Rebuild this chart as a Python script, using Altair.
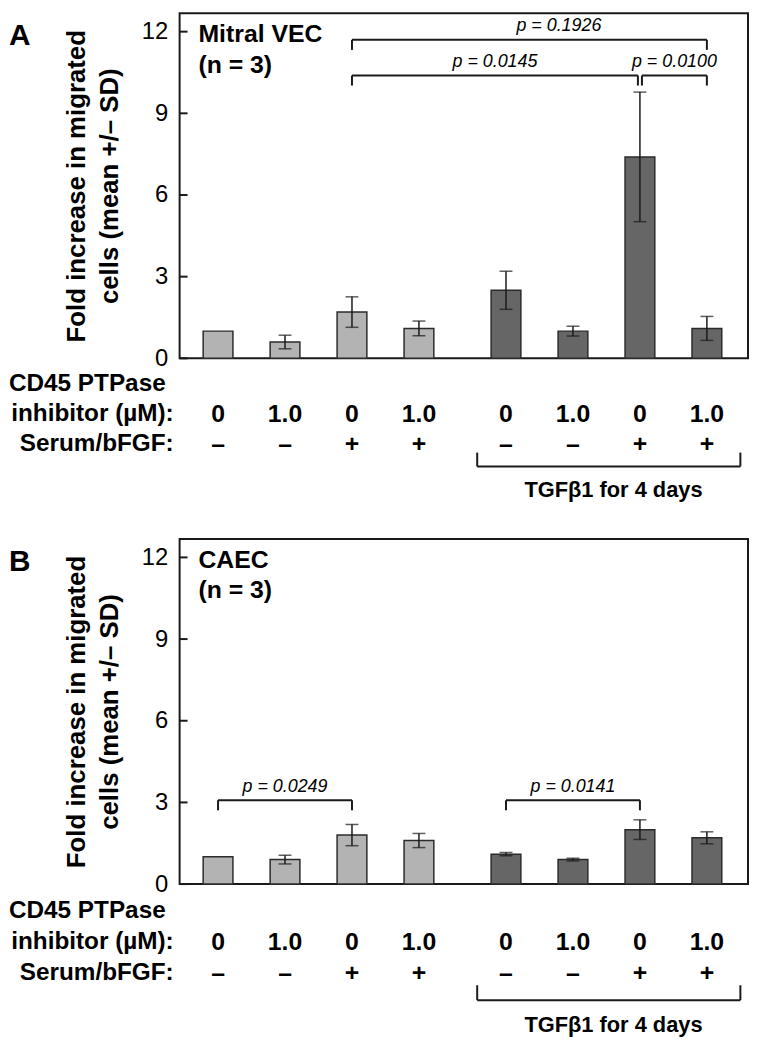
import altair as alt
import pandas as pd

# ---------------- data ----------------
inhibitor_labels = ["0", "1.0", "0", "1.0", "0", "1.0", "0", "1.0"]
serum_labels = ["–", "–", "+", "+", "–", "–", "+", "+"]
tgf_group = ["ctrl", "ctrl", "ctrl", "ctrl", "tgf", "tgf", "tgf", "tgf"]

mitral_mean = [1.0, 0.6, 1.7, 1.1, 2.5, 1.0, 7.4, 1.1]
mitral_sd = [0.0, 0.25, 0.56, 0.27, 0.7, 0.18, 2.38, 0.44]
caec_mean = [1.0, 0.9, 1.8, 1.6, 1.1, 0.9, 2.0, 1.7]
caec_sd = [0.0, 0.16, 0.39, 0.26, 0.06, 0.05, 0.36, 0.22]

# significance brackets: from bar index, to bar index, bracket level, label
mitral_p_text = ["p = 0.1926", "p = 0.0145", "p = 0.0100"]
mitral_p_from = [2, 2, 6]
mitral_p_to = [7, 6, 7]
mitral_p_level = [11.7, 10.39, 10.39]
caec_p_text = ["p = 0.0249", "p = 0.0141"]
caec_p_from = [0, 4]
caec_p_to = [2, 6]
caec_p_level = [3.08, 3.08]

y_ticks = [0, 3, 6, 9, 12]

# ---------------- layout / style ----------------
FONT = "Liberation Sans"
W, H = 573, 348
X_MAX = 8.34
Y_MAX = 12.68
GROUP_GAP = 0.3
LIGHT, DARK = "#b3b3b3", "#666666"
INK = "#1a1a1a"


def positions():
    return [i % 4 + 0.5 + (i // 4) * (4 + GROUP_GAP) for i in range(8)]


def vtext(txt, x, y, size, weight="bold", align="left", baseline="middle"):
    return alt.Chart(pd.DataFrame({"t": [txt]})).mark_text(
        font=FONT, fontSize=size, fontWeight=weight, color="black",
        align=align, baseline=baseline).encode(x=alt.value(x), y=alt.value(y), text="t:N")


def panel(letter, cell, means, sds, p_text, p_from, p_to, p_level, p_nudge, rows):
    pos = positions()
    df = pd.DataFrame({
        "pos": pos, "mean": means, "sd": sds, "group": tgf_group,
        "inh": inhibitor_labels, "ser": serum_labels,
    })
    df["lo"] = df["mean"] - df["sd"]
    df["hi"] = df["mean"] + df["sd"]
    err = df[df["sd"] > 0]

    xs = alt.Scale(domain=[0, X_MAX], nice=False, zero=False)
    ys = alt.Scale(domain=[0, Y_MAX], nice=False)
    X = lambda f: alt.X(f, scale=xs, axis=None)

    bars = alt.Chart(df).mark_bar(size=30, stroke="#2b2b2b", strokeWidth=1.5).encode(
        x=X("pos:Q"),
        y=alt.Y("mean:Q", scale=ys, axis=alt.Axis(
            title=["Fold increase in migrated", "cells (mean +/– SD)"],
            titleFontSize=26, titleFontWeight="bold", titleLineHeight=33,
            titlePadding=19, titleColor="black", titleFont=FONT,
            labelFontSize=24, labelPadding=12, labelColor="black", labelFont=FONT,
            values=y_ticks, ticks=False, tickSize=0, domain=False, grid=False)),
        color=alt.Color("group:N", scale=alt.Scale(domain=["ctrl", "tgf"], range=[LIGHT, DARK]), legend=None),
    )
    stem = alt.Chart(err).mark_rule(color=INK, strokeWidth=1.5).encode(
        x=X("pos:Q"), y=alt.Y("lo:Q", scale=ys, axis=None), y2="hi:Q")
    cap_lo = alt.Chart(err).mark_tick(color=INK, size=13, thickness=1.5, orient="horizontal").encode(
        x=X("pos:Q"), y=alt.Y("lo:Q", scale=ys, axis=None))
    cap_hi = alt.Chart(err).mark_tick(color=INK, size=13, thickness=1.5, orient="horizontal").encode(
        x=X("pos:Q"), y=alt.Y("hi:Q", scale=ys, axis=None))

    # inward-pointing y ticks
    tick_df = pd.DataFrame({"t": y_ticks})
    yticks = alt.Chart(tick_df).mark_rule(color=INK, strokeWidth=2).encode(
        x=alt.value(0), x2=alt.value(8), y=alt.Y("t:Q", scale=ys, axis=None))

    # significance brackets
    starts = [pos[i] for i in p_from]
    ends = [pos[i] for i in p_to]
    bd = pd.DataFrame({"x1": starts, "x2": ends, "lvl": p_level, "txt": p_text, "nudge": p_nudge})
    # where two brackets share a bar, split the legs slightly so both legs show
    bd["x1"] = [a + (0.03 if a in ends else 0) for a in starts]
    bd["x2"] = [b - (0.03 if b in starts else 0) for b in ends]
    bd["leg"] = bd["lvl"] - 0.37
    bd["tx"] = (bd["x1"] + bd["x2"]) / 2 + bd["nudge"]
    bd["ty"] = bd["lvl"] + 0.5
    hline = alt.Chart(bd).mark_rule(color=INK, strokeWidth=2).encode(
        x=X("x1:Q"), x2="x2:Q", y=alt.Y("lvl:Q", scale=ys, axis=None))
    leg1 = alt.Chart(bd).mark_rule(color=INK, strokeWidth=2).encode(
        x=X("x1:Q"), y=alt.Y("lvl:Q", scale=ys, axis=None), y2="leg:Q")
    leg2 = alt.Chart(bd).mark_rule(color=INK, strokeWidth=2).encode(
        x=X("x2:Q"), y=alt.Y("lvl:Q", scale=ys, axis=None), y2="leg:Q")
    ptxt = alt.Chart(bd).mark_text(font=FONT, fontSize=18, fontStyle="italic", color="black",
                                   baseline="middle").encode(
        x=X("tx:Q"), y=alt.Y("ty:Q", scale=ys, axis=None), text="txt:N")

    # panel letter and cell label
    let = vtext(letter, -172, 23, 30)
    cell1 = vtext(cell, 19, 21, 25)
    cell2 = vtext("(n = 3)", 19, 52, 25)

    # table under the plot
    r1, r2, r3, leg_top, leg_bot, tgf_y = rows
    hdr1 = vtext("CD45 PTPase", -172, H + r1, 24.5)
    hdr2 = vtext("inhibitor (µM):", -6, H + r2, 24.5, align="right")
    hdr3 = vtext("Serum/bFGF:", -6, H + r3, 24.5, align="right")
    inh = alt.Chart(df).mark_text(font=FONT, fontSize=25, fontWeight="bold", color="black",
                                  baseline="middle").encode(
        x=X("pos:Q"), y=alt.value(H + r2), text="inh:N")
    ser = alt.Chart(df).mark_text(font=FONT, fontSize=25, fontWeight="bold", color="black",
                                  baseline="middle").encode(
        x=X("pos:Q"), y=alt.value(H + r3), text="ser:N")

    tg = df[df["group"] == "tgf"]
    tb = pd.DataFrame({"a": [tg["pos"].min() - 0.43], "b": [tg["pos"].max() + 0.5],
                       "t": ["TGFβ1 for 4 days"]})
    tb["c"] = (tb["a"] + tb["b"]) / 2 + 0.07
    tline = alt.Chart(tb).mark_rule(color=INK, strokeWidth=2).encode(
        x=X("a:Q"), x2="b:Q", y=alt.value(H + leg_bot))
    tl1 = alt.Chart(tb).mark_rule(color=INK, strokeWidth=2).encode(
        x=X("a:Q"), y=alt.value(H + leg_top), y2=alt.value(H + leg_bot))
    tl2 = alt.Chart(tb).mark_rule(color=INK, strokeWidth=2).encode(
        x=X("b:Q"), y=alt.value(H + leg_top), y2=alt.value(H + leg_bot))
    ttxt = alt.Chart(tb).mark_text(font=FONT, fontSize=22, fontWeight="bold", color="black",
                                   baseline="middle").encode(
        x=X("c:Q"), y=alt.value(H + tgf_y), text="t:N")

    return alt.layer(bars, stem, cap_lo, cap_hi, yticks, hline, leg1, leg2, ptxt, let,
                     cell1, cell2, hdr1, hdr2, hdr3, inh, ser, tline, tl1, tl2, ttxt
                     ).resolve_scale(y="independent").properties(width=W, height=H)


pa = panel("A", "Mitral VEC", mitral_mean, mitral_sd, mitral_p_text, mitral_p_from, mitral_p_to,
           mitral_p_level, [0.44, 0, 0], (26, 56, 86, 95, 109, 133))
pb = panel("B", "CAEC", caec_mean, caec_sd, caec_p_text, caec_p_from, caec_p_to,
           caec_p_level, [0, 0], (27, 58, 90, 102, 117, 142))

chart = (alt.vconcat(pa, pb, spacing=36)
         .properties(padding=0)
         .configure(font=FONT)
         .configure_view(stroke=INK, strokeWidth=2))

chart.save("out.html", embed_options={"renderer": "svg", "actions": False})
